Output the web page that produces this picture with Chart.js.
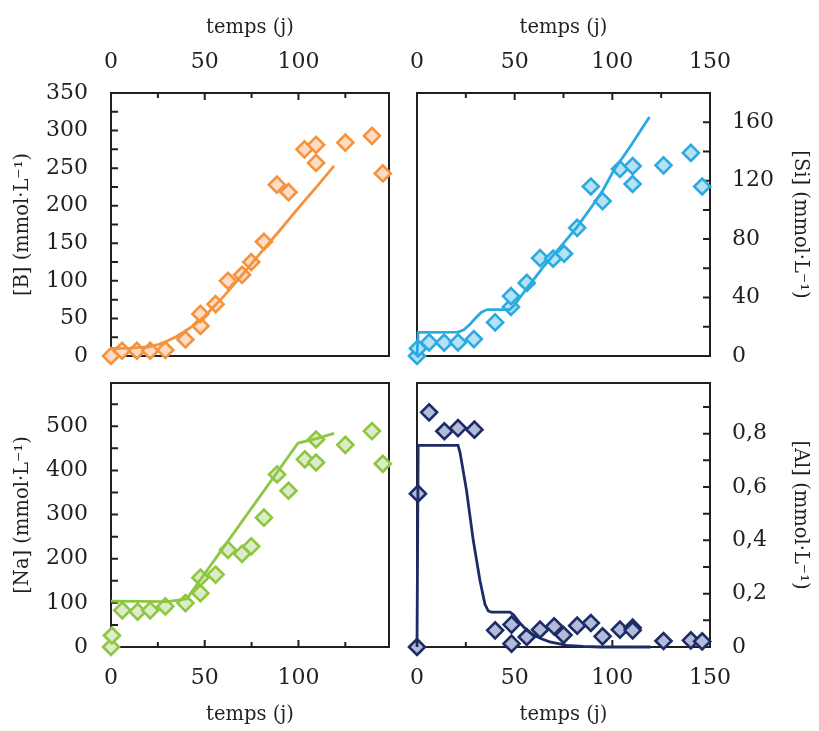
<!DOCTYPE html>
<html>
<head>
<meta charset="utf-8">
<script src="https://cdn.jsdelivr.net/npm/chart.js@4.4.1/dist/chart.umd.min.js"></script>
<style>
  html, body { margin: 0; padding: 0; background: #fff; }
  #wrap { position: relative; width: 819px; height: 731px; }
  #wrap canvas { position: absolute; left: 0; top: 0; }
</style>
</head>
<body>
<div id="wrap">
  <canvas id="cB" width="819" height="731"></canvas>
  <canvas id="cSi" width="819" height="731"></canvas>
  <canvas id="cNa" width="819" height="731"></canvas>
  <canvas id="cAl" width="819" height="731"></canvas>
</div>
<script>
// ---------- DATA ----------
const xTitle = 'temps (j)';
const dayTicks = [0, 25, 50, 75, 100, 125, 150];
const dayLabels = [0, 50, 100, 150];

// [B] measured
const dayB = [0, 5.9, 13.8, 20.9, 29, 39.7, 47.7, 47.7, 55.8, 62.4, 69.9, 74.8, 81.6, 88.5, 94.7, 103.2, 109.4, 109.4, 125, 139.2, 145];
const valB = [0, 7, 7, 7, 8, 22, 40, 56, 69, 100, 108, 125, 152, 228, 218, 275, 281, 257, 284, 293, 243];
// [B] model
const dayBfit = [0, 10, 20, 25, 30, 35, 40, 45, 50, 55, 60, 70, 80, 90, 100, 110, 119];
const valBfit = [10, 10.5, 12, 15, 20, 26, 34, 42, 53, 66, 79, 108, 138, 167, 197, 226, 253];
const bTicks = [0, 25, 50, 75, 100, 125, 150, 175, 200, 225, 250, 275, 300, 325, 350];
const bLabels = [0, 50, 100, 150, 200, 250, 300, 350];

// [Si] measured
const daySi = [0, 0.5, 6.2, 13.9, 21, 29.1, 40, 48.1, 48.1, 56.2, 63, 69.7, 75.3, 82, 89, 95, 103.9, 110.4, 110.4, 126.2, 140.2, 146];
const valSi = [0, 5.2, 9.3, 9.1, 9.3, 11.6, 23, 33.6, 41, 50, 67, 66.6, 70, 87.7, 116, 106, 128, 130, 117.7, 130.5, 139, 116];
// [Si] model
const daySiFit = [0, 0.6, 21, 24, 27, 30, 33, 36, 47.5, 50, 56, 64.7, 73.3, 81.8, 90.4, 95, 100.7, 109, 119];
const valSiFit = [0, 16.2, 16.4, 18, 21.5, 26, 30, 31.8, 31.8, 35, 46, 61, 74.5, 88, 104, 113, 127, 143, 163.6];
const siTicks = [0, 20, 40, 60, 80, 100, 120, 140, 160, 180];
const siLabels = [0, 40, 80, 120, 160];

// [Na] measured
const dayNa = [0, 0.5, 6, 14.2, 20.9, 29, 39.7, 47.7, 47.7, 55.8, 62.4, 69.9, 74.8, 81.6, 88.6, 94.7, 103.4, 109.4, 109.4, 125, 139.2, 145];
const valNa = [0, 26, 83, 80, 83, 92, 99.5, 122, 157, 164, 220, 211, 228, 293, 391, 354, 425, 418, 470, 458, 489, 415];
// [Na] model
const dayNaFit = [0, 30, 40.4, 99.8, 109.6, 119];
const valNaFit = [104, 103, 109, 462, 472, 484];
const naTicks = [0, 50, 100, 150, 200, 250, 300, 350, 400, 450, 500, 550];
const naLabels = [0, 100, 200, 300, 400, 500];

// [Al] measured
const dayAl = [0, 0.5, 6.2, 14, 21, 29.4, 40, 48.4, 48.4, 56.2, 63, 70.2, 75, 82, 89, 95, 103.9, 110.4, 110.4, 126.2, 140.2, 146];
const valAl = [0, 0.575, 0.88, 0.809, 0.821, 0.815, 0.0625, 0.084, 0.0125, 0.0375, 0.065, 0.0775, 0.045, 0.08, 0.09, 0.04, 0.065, 0.0725, 0.0625, 0.0225, 0.025, 0.021];
// [Al] model
const dayAlFit = [0, 0.6, 21, 22, 23.2, 25.3, 28.8, 32.2, 34.8, 36.5, 38, 47.6, 49.5, 52.7, 56.2, 59.6, 64, 68, 76.7, 85, 93.8, 119.5];
const valAlFit = [0, 0.756, 0.756, 0.73, 0.68, 0.59, 0.40, 0.25, 0.16, 0.135, 0.131, 0.131, 0.12, 0.09, 0.063, 0.045, 0.03, 0.019, 0.006, 0.002, 0, 0];
const alTicks = [0, 0.1, 0.2, 0.3, 0.4, 0.5, 0.6, 0.7, 0.8, 0.9];
const alLabels = [0, 0.2, 0.4, 0.6, 0.8];

// ---------- STYLE ----------
const INK = '#231f20';
const SERIF = "'DejaVu Serif', serif";

const frameTicks = {
  id: 'frameTicks',
  beforeDatasetsDraw(chart, args, opts) {
    const {ctx, chartArea: a, scales: {x, y}} = chart;
    ctx.save();
    ctx.strokeStyle = INK;
    ctx.lineWidth = 2;
    ctx.beginPath();
    x.ticks.forEach(t => {
      const px = x.getPixelForValue(t.value);
      if (px <= a.left + 1 || px >= a.right - 1) return;
      const len = opts.xMajor.includes(t.value) ? 7 : 5;
      if (x.options.position === 'top') { ctx.moveTo(px, a.top); ctx.lineTo(px, a.top + len); }
      else { ctx.moveTo(px, a.bottom); ctx.lineTo(px, a.bottom - len); }
    });
    y.ticks.forEach(t => {
      const py = y.getPixelForValue(t.value);
      if (py <= a.top + 1 || py >= a.bottom - 1) return;
      const len = 7;
      if (y.options.position === 'left') { ctx.moveTo(a.left, py); ctx.lineTo(a.left + len, py); }
      else { ctx.moveTo(a.right, py); ctx.lineTo(a.right - len, py); }
    });
    ctx.stroke();
    ctx.strokeRect(a.left, a.top, a.right - a.left, a.bottom - a.top);
    ctx.restore();
  }
};

function pts(xs, ys) { return xs.map((d, i) => ({x: d, y: ys[i]})); }

function makePanel(id, cfg) {
  const xTop = cfg.xPos === 'top';
  const yLeft = cfg.yPos === 'left';
  new Chart(document.getElementById(id), {
    type: 'scatter',
    data: {
      datasets: [
        {
          data: pts(cfg.fitX, cfg.fitY),
          showLine: true,
          borderColor: cfg.color,
          borderWidth: 2.8,
          pointRadius: 0,
          tension: 0,
          fill: false,
          clip: false
        },
        {
          data: pts(cfg.obsX, cfg.obsY),
          pointStyle: 'rectRot',
          pointRadius: 8,
          pointBorderWidth: 2.6,
          borderColor: cfg.color,
          backgroundColor: cfg.fillColor,
          pointBackgroundColor: cfg.fillColor,
          pointBorderColor: cfg.color,
          showLine: false,
          clip: false
        }
      ]
    },
    options: {
      responsive: false,
      animation: false,
      devicePixelRatio: 1,
      layout: { padding: cfg.padding },
      plugins: {
        legend: { display: false },
        tooltip: { enabled: false },
        frameTicks: { xMajor: dayLabels }
      },
      scales: {
        x: {
          type: 'linear',
          position: cfg.xPos,
          min: 0,
          max: cfg.xMax,
          afterBuildTicks: s => { s.ticks = dayTicks.filter(v => v <= cfg.xMax).map(v => ({value: v})); },
          afterFit: s => { s.height = cfg.xHeight; },
          grid: { display: true, drawOnChartArea: false, drawTicks: false },
          border: { display: false },
          ticks: {
            autoSkip: false, maxRotation: 0, minRotation: 0,
            padding: 17.8,
            color: INK,
            font: { family: SERIF, size: 22 },
            callback: v => dayLabels.includes(v) ? String(v) : ''
          },
          title: {
            display: true,
            text: xTitle,
            color: INK,
            font: { family: SERIF, size: 19.5, lineHeight: 1.2 },
            padding: xTop ? { top: 16.6, bottom: 0 } : { top: 0, bottom: 4.6 }
          }
        },
        y: {
          type: 'linear',
          position: cfg.yPos,
          min: 0,
          max: cfg.yMax,
          afterBuildTicks: s => { s.ticks = cfg.yTicks.map(v => ({value: v})); },
          afterFit: s => { s.width = cfg.yWidth; },
          grid: { display: true, drawOnChartArea: false, drawTicks: false },
          border: { display: false },
          ticks: {
            autoSkip: false,
            padding: yLeft ? 23 : 22,
            color: INK,
            font: { family: SERIF, size: 22 },
            callback: v => cfg.yLabels.includes(v) ? cfg.fmt(v) : ''
          },
          title: {
            display: true,
            text: cfg.yTitle,
            color: INK,
            font: { family: SERIF, size: 19.5, lineHeight: 1.2 },
            padding: { top: yLeft ? 11.6 : 7.6, bottom: 0 }
          }
        }
      }
    },
    plugins: [frameTicks]
  });
}

const intFmt = v => String(v);
const commaFmt = v => v === 0 ? '0' : v.toFixed(1).replace('.', ',');

makePanel('cB', {
  xPos: 'top', yPos: 'left', xMax: 148.3, yMax: 350,
  padding: { left: 0, top: 0, right: 430, bottom: 375 }, xHeight: 93, yWidth: 111,
  yTicks: bTicks, yLabels: bLabels, fmt: intFmt, yTitle: '[B] (mmol·L⁻¹)',
  obsX: dayB, obsY: valB, fitX: dayBfit, fitY: valBfit,
  color: '#f5923e', fillColor: '#fddcc3'
});
makePanel('cSi', {
  xPos: 'top', yPos: 'right', xMax: 150, yMax: 180,
  padding: { left: 417, top: 0, right: 0, bottom: 375 }, xHeight: 93, yWidth: 109,
  yTicks: siTicks, yLabels: siLabels, fmt: intFmt, yTitle: '[Si] (mmol·L⁻¹)',
  obsX: daySi, obsY: valSi, fitX: daySiFit, fitY: valSiFit,
  color: '#29abe2', fillColor: '#b7e1f6'
});
makePanel('cNa', {
  xPos: 'bottom', yPos: 'left', xMax: 148.3, yMax: 598,
  padding: { left: 0, top: 383, right: 430, bottom: 0 }, xHeight: 84, yWidth: 111,
  yTicks: naTicks, yLabels: naLabels, fmt: intFmt, yTitle: '[Na] (mmol·L⁻¹)',
  obsX: dayNa, obsY: valNa, fitX: dayNaFit, fitY: valNaFit,
  color: '#8dc63f', fillColor: '#dcebc8'
});
makePanel('cAl', {
  xPos: 'bottom', yPos: 'right', xMax: 150, yMax: 0.99,
  padding: { left: 417, top: 383, right: 0, bottom: 0 }, xHeight: 84, yWidth: 109,
  yTicks: alTicks, yLabels: alLabels, fmt: commaFmt, yTitle: '[Al] (mmol·L⁻¹)',
  obsX: dayAl, obsY: valAl, fitX: dayAlFit, fitY: valAlFit,
  color: '#1d2b66', fillColor: '#b2bbd7'
});
</script>
</body>
</html>
